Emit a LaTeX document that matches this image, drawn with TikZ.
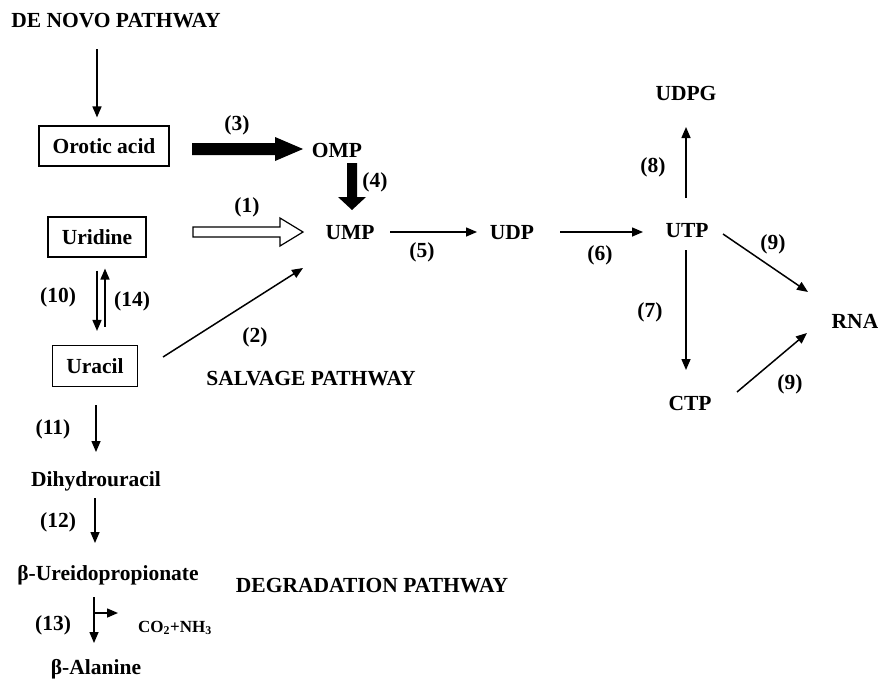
\documentclass[tikz,border=0pt]{standalone}
\usepackage{fontspec}
\setmainfont{Liberation Serif}
\usetikzlibrary{arrows.meta,calc}
\begin{document}
\begin{tikzpicture}[x=1pt,y=-1pt,
  every node/.style={font=\fontsize{21.5}{25}\selectfont\bfseries, inner sep=0pt, text height=14.5pt, text depth=0pt},
  boxed/.style={draw, line width=1.1pt, minimum height=40pt},
  small/.style={font=\fontsize{17}{20}\selectfont\bfseries},
  arr/.style={line width=1.5pt, -{Triangle[length=11pt,width=9pt]}},
  fat/.style={fill=black},
  hollow/.style={draw=black, line width=1.2pt, fill=white}]
\useasboundingbox (0,0) rectangle (878,685);

% main nodes
\node (denovo) at (116,20) {DE NOVO PATHWAY};
\node[boxed, minimum width=130pt] (orotic) at (104,146) {Orotic acid};
\node (omp) at (337,150) {OMP};
\node[boxed, minimum width=98pt] (uridine) at (97,237) {Uridine};
\node (ump) at (350,232) {UMP};
\node (udp) at (512,232) {UDP};
\node (utp) at (687,230) {UTP};
\node (udpg) at (686,93) {UDPG};
\node (ctp) at (690,403) {CTP};
\node (rna) at (855,321) {RNA};
\node[boxed, minimum width=85pt, minimum height=41pt] (uracil) at (95,366) {Uracil};
\node (dihydro) at (96,479) {Dihydrouracil};
\node (ureido) at (108,573) {β-Ureidopropionate};
\node (alanine) at (96,667) {β-Alanine};
\node[small] (co2) at (175,625) {CO\textsubscript{2}+NH\textsubscript{3}};
\node (salvage) at (311,378) {SALVAGE PATHWAY};
\node (degr) at (372,585) {DEGRADATION PATHWAY};

% labels
\node (l3) at (237,123) {(3)};
\node (l4) at (375,180) {(4)};
\node (l1) at (247,205) {(1)};
\node (l5) at (422,250) {(5)};
\node (l6) at (600,253) {(6)};
\node (l8) at (653,165) {(8)};
\node (l7) at (650,310) {(7)};
\node (l9a) at (773,242) {(9)};
\node (l9b) at (790,382) {(9)};
\node (l10) at (58,295) {(10)};
\node (l14) at (132,299) {(14)};
\node (l2) at (255,335) {(2)};
\node (l11) at (53,427) {(11)};
\node (l12) at (58,520) {(12)};
\node (l13) at (53,623) {(13)};

% big arrows
\fill[fat] (192,143) -- (275,143) -- (275,137) -- (303,149) -- (275,161) -- (275,155) -- (192,155) -- cycle;
\fill[fat] (347,163) -- (357,163) -- (357,197) -- (366,197) -- (352,210) -- (338,197) -- (347,197) -- cycle;
\draw[hollow] (193,227) -- (280,227) -- (280,218) -- (303,232) -- (280,246) -- (280,237) -- (193,237) -- cycle;

% connectors
\draw[arr] ($(orotic.north)+(-7,-76)$) -- ($(orotic.north)+(-7,-8)$);
\draw[arr, shorten <=40pt, shorten >=35pt] (ump.center) -- (udp.center);
\draw[arr, shorten <=48pt, shorten >=44pt] (udp.center) -- (udp.center -| utp.center);
\draw[arr] ($(utp.center)+(-1,-32)$) -- ($(udpg.center)+(0,34)$);
\draw[arr] ($(utp.center)+(-1,20)$) -- ($(ctp.center)+(-4,-33)$);
\draw[arr] ($(utp.center)+(36,4)$) -- ($(rna.center)+(-47,-29)$);
\draw[arr] ($(ctp.center)+(47,-11)$) -- ($(rna.center)+(-48,12)$);
\draw[arr] ($(uridine.south)+(0,13)$) -- ($(uracil.north)+(2,-14)$);
\draw[arr] ($(uracil.north)+(10,-18)$) -- ($(uridine.south)+(8,11)$);
\draw[arr] ($(uracil.east)+(25,-9)$) -- ($(ump.center)+(-47,36)$);
\draw[arr] ($(uracil.south)+(1,18)$) -- ($(dihydro.center)+(0,-27)$);
\draw[arr] ($(dihydro.center)+(-1,19)$) -- ($(ureido.center)+(-13,-30)$);
\draw[arr] ($(ureido.center)+(-14,24)$) -- ($(alanine.center)+(-2,-24)$);
\coordinate (br) at ($(ureido.center)+(-14,40)$);
\draw[arr, shorten >=20pt] (br) -- (br -| co2.west);
\end{tikzpicture}
\end{document}
